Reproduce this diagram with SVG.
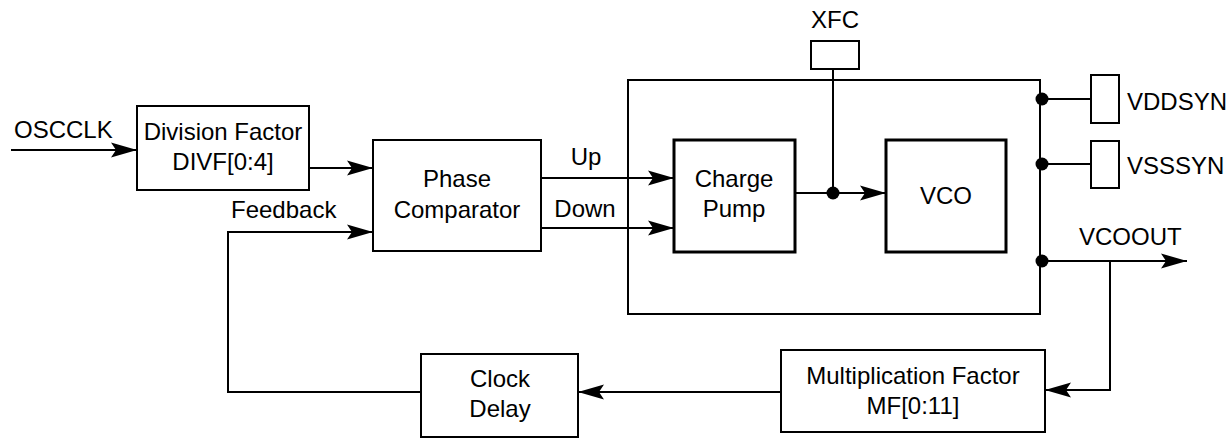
<svg xmlns="http://www.w3.org/2000/svg" width="1230" height="438" viewBox="0 0 1230 438">
<style>
.box{fill:#fff;stroke:#000;stroke-width:2}
.thick{fill:#fff;stroke:#000;stroke-width:3}
.ln{fill:none;stroke:#000;stroke-width:2}
.ar{marker-end:url(#arr)}
text{font-family:"Liberation Sans",Arial,sans-serif;font-size:24px;fill:#000}
.c{text-anchor:middle}
</style>
<defs>
<marker id="arr" markerUnits="userSpaceOnUse" markerWidth="30" markerHeight="18" refX="26" refY="8" orient="auto" overflow="visible">
<path d="M0,0.5 L26,8 L0,15.5 L5,8 Z" fill="#000"/>
</marker>
</defs>
<rect width="1230" height="438" fill="#fff"/>
<g id="connectors">
<path class="ln ar" d="M11,150 H137"/>
<path class="ln ar" d="M309,168 H373"/>
<path class="ln ar" d="M421,392 H228 V232 H373"/>
<path class="ln ar" d="M541,178 H674"/>
<path class="ln ar" d="M541,228 H674"/>
<path class="ln ar" d="M795,193 H886"/>
<path class="ln" d="M833,69 V193"/>
<path class="ln" d="M1042,99 H1091"/>
<path class="ln" d="M1042,164 H1091"/>
<path class="ln ar" d="M1042,261 H1187"/>
<path class="ln ar" d="M1110,261 V390 H1045"/>
<path class="ln ar" d="M781,392 H578"/>
</g>
<g id="enclosure"><rect x="628" y="80" width="412" height="234" fill="none" stroke="#000" stroke-width="2"/></g>
<g id="dots">
<circle cx="833" cy="193" r="6.5"/>
<circle cx="1042" cy="99" r="6.5"/>
<circle cx="1042" cy="164" r="6.5"/>
<circle cx="1042" cy="261" r="6.5"/>
</g>
<g id="osc"><text x="14" y="138">OSCCLK</text></g>
<g id="div"><rect class="box" x="137" y="106" width="172" height="84"/><text class="c" x="223" y="140">Division Factor</text><text class="c" x="223" y="170">DIVF[0:4]</text></g>
<g id="feedback"><text x="231" y="218">Feedback</text></g>
<g id="phase"><rect class="box" x="373" y="140" width="168" height="111"/><text class="c" x="457" y="187">Phase</text><text class="c" x="457" y="218">Comparator</text></g>
<g id="labels"><text class="c" x="586" y="165">Up</text><text class="c" x="585" y="217">Down</text></g>
<g id="cp"><rect class="thick" x="674" y="140" width="121" height="112"/><text class="c" x="734" y="187">Charge</text><text class="c" x="734" y="217">Pump</text></g>
<g id="vco"><rect class="thick" x="886" y="140" width="120" height="112"/><text class="c" x="946" y="204">VCO</text></g>
<g id="xfc"><rect class="box" x="811" y="41" width="48" height="28"/><text class="c" x="835" y="28">XFC</text></g>
<g id="vdd"><rect class="box" x="1091" y="75" width="28" height="48"/><text x="1127" y="110">VDDSYN</text></g>
<g id="vss"><rect class="box" x="1091" y="141" width="28" height="47"/><text x="1127" y="174">VSSSYN</text></g>
<g id="vcoout"><text x="1079" y="245">VCOOUT</text></g>
<g id="delay"><rect class="box" x="421" y="354" width="157" height="83"/><text class="c" x="500" y="387">Clock</text><text class="c" x="500" y="417">Delay</text></g>
<g id="mult"><rect class="box" x="781" y="350" width="264" height="82"/><text class="c" x="913" y="384">Multiplication Factor</text><text class="c" x="913" y="414">MF[0:11]</text></g>
</svg>
